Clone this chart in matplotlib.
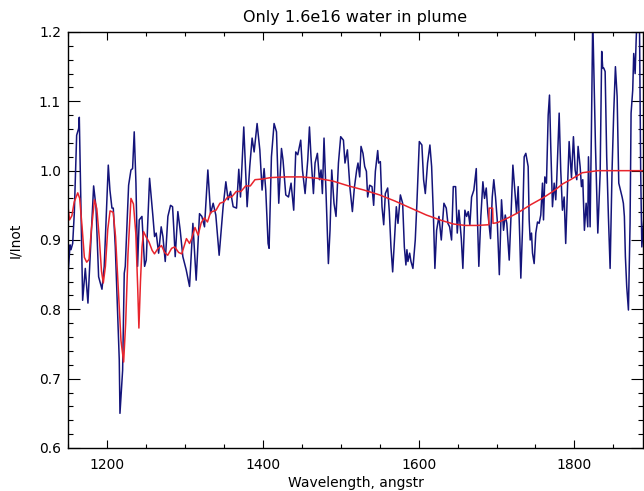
import matplotlib
matplotlib.use("Agg")
import matplotlib.pyplot as plt
from matplotlib.ticker import MultipleLocator

# observed transmission spectrum (I/Inot) vs wavelength in angstroms
obs_wave = [
    1149.6, 1152.6, 1153.8, 1156.0, 1158.1, 1161.1, 1163.7, 1164.5, 1168.8, 1172.2,
    1175.6, 1178.2, 1182.9, 1185.9, 1189.3, 1193.6, 1196.5, 1201.7, 1203.8, 1206.4,
    1208.1, 1210.7, 1215.8, 1216.7, 1220.1, 1222.2, 1223.5, 1227.8, 1230.8, 1232.9,
    1235.0, 1237.2, 1239.3, 1241.4, 1244.9, 1248.3, 1250.4, 1254.7, 1259.0, 1261.1,
    1263.2, 1266.3, 1269.6, 1271.8, 1274.8, 1278.2, 1281.6, 1284.2, 1285.9, 1287.6,
    1291.0, 1294.0, 1297.4, 1301.7, 1306.0, 1310.3, 1314.5, 1318.8, 1321.8, 1325.2,
    1329.5, 1333.0, 1336.3, 1339.7, 1344.0, 1347.0, 1349.1, 1352.6, 1355.5, 1358.6,
    1362.0, 1366.3, 1369.2, 1371.4, 1375.6, 1379.9, 1383.3, 1386.3, 1388.9, 1392.7,
    1396.2, 1399.1, 1401.7, 1403.8, 1406.8, 1408.1, 1411.1, 1414.5, 1417.6, 1420.5,
    1424.0, 1426.0, 1429.5, 1433.0, 1436.3, 1439.7, 1442.3, 1444.9, 1448.7, 1450.9,
    1454.3, 1457.7, 1459.9, 1461.9, 1465.0, 1467.1, 1470.1, 1472.7, 1474.8, 1476.5,
    1478.6, 1481.2, 1484.2, 1486.3, 1488.5, 1491.4, 1494.0, 1497.1, 1500.0, 1503.5,
    1505.5, 1508.6, 1511.9, 1515.0, 1517.5, 1520.5, 1522.2, 1524.4, 1526.1, 1528.6,
    1530.8, 1533.0, 1534.6, 1537.2, 1540.2, 1542.3, 1544.5, 1547.5, 1548.7, 1550.9,
    1553.0, 1555.2, 1557.3, 1560.3, 1562.4, 1564.5, 1566.7, 1568.8, 1571.4, 1573.5,
    1576.6, 1579.5, 1581.7, 1583.7, 1585.0, 1586.3, 1588.5, 1590.2, 1592.7, 1595.7,
    1597.8, 1600.9, 1604.2, 1606.4, 1608.6, 1611.5, 1614.5, 1616.7, 1618.9, 1620.9,
    1623.1, 1626.1, 1629.1, 1632.5, 1635.5, 1637.6, 1639.8, 1642.3, 1644.5, 1647.5,
    1649.6, 1651.7, 1654.8, 1656.8, 1659.4, 1661.6, 1663.7, 1665.8, 1668.0, 1670.9,
    1674.0, 1675.3, 1677.3, 1679.9, 1682.5, 1684.6, 1686.8, 1688.9, 1692.3, 1694.5,
    1696.5, 1698.7, 1700.9, 1703.6, 1706.4, 1709.0, 1711.2, 1713.2, 1716.3, 1718.4,
    1721.0, 1723.5, 1725.7, 1727.8, 1729.9, 1731.2, 1733.3, 1735.5, 1737.6, 1740.6,
    1741.9, 1743.2, 1744.9, 1746.2, 1748.3, 1750.4, 1752.6, 1754.7, 1756.8, 1759.0,
    1760.3, 1762.0, 1764.1, 1766.3, 1768.0, 1769.6, 1771.8, 1774.0, 1776.0, 1777.3,
    1780.4, 1782.4, 1784.6, 1786.8, 1788.8, 1791.0, 1793.2, 1796.2, 1798.7, 1800.9,
    1803.0, 1804.7, 1807.3, 1809.0, 1810.7, 1812.8, 1815.0, 1817.1, 1818.0, 1820.1,
    1821.8, 1823.5, 1827.0, 1830.0, 1833.0, 1835.0, 1836.3, 1837.6, 1839.4, 1841.4,
    1843.6, 1845.8, 1848.3, 1850.4, 1852.6, 1854.8, 1856.9, 1859.0, 1861.2, 1862.8,
    1864.1, 1865.4, 1867.1, 1869.3, 1871.4, 1872.7, 1874.8, 1876.1, 1877.9, 1879.2,
    1881.0, 1883.5, 1885.0, 1886.5, 1889.0,
]
obs_flux = [
    0.842, 0.893, 0.886, 0.895, 0.939, 1.051, 1.061, 1.077, 0.813, 0.859,
    0.809, 0.871, 0.978, 0.948, 0.847, 0.829, 0.862, 1.008, 0.972, 0.946,
    0.946, 0.890, 0.727, 0.650, 0.712, 0.852, 0.862, 0.979, 1.001, 1.003,
    1.056, 0.982, 0.862, 0.929, 0.934, 0.862, 0.871, 0.989, 0.934, 0.905,
    0.910, 0.881, 0.919, 0.905, 0.869, 0.934, 0.950, 0.948, 0.914, 0.876,
    0.941, 0.914, 0.876, 0.857, 0.833, 0.924, 0.842, 0.938, 0.934, 0.919,
    1.001, 0.938, 0.953, 0.936, 0.878, 0.919, 0.948, 0.984, 0.958, 0.970,
    0.948, 0.946, 1.002, 0.962, 1.063, 0.948, 1.006, 1.047, 1.027, 1.068,
    1.030, 0.972, 1.003, 0.972, 0.895, 0.888, 1.020, 1.068, 1.056, 0.953,
    1.032, 1.015, 0.965, 0.962, 0.982, 0.943, 1.027, 1.023, 1.044, 1.001,
    0.967, 1.015, 1.063, 1.020, 0.967, 1.011, 1.025, 0.987, 1.001, 0.967,
    1.047, 0.967, 0.866, 0.914, 1.001, 0.953, 0.934, 1.011, 1.049, 1.044,
    1.011, 1.030, 0.975, 0.941, 0.975, 1.001, 1.011, 0.991, 1.035, 1.025,
    1.006, 0.999, 0.962, 0.979, 0.977, 0.950, 0.999, 1.029, 1.011, 1.013,
    0.948, 0.922, 0.967, 0.975, 0.941, 0.890, 0.854, 0.895, 0.948, 0.924,
    0.965, 0.953, 0.890, 0.864, 0.886, 0.869, 0.881, 0.869, 0.859, 0.900,
    0.953, 1.042, 1.037, 0.987, 0.967, 1.011, 1.037, 1.006, 0.939, 0.859,
    0.914, 0.934, 0.900, 0.953, 0.946, 0.924, 0.919, 0.900, 0.977, 0.977,
    0.910, 0.943, 0.902, 0.859, 0.943, 0.934, 0.941, 0.922, 0.962, 0.972,
    1.003, 0.939, 0.862, 0.934, 0.984, 0.960, 0.975, 0.939, 0.902, 0.962,
    0.987, 0.962, 0.929, 0.850, 0.958, 0.914, 0.936, 0.924, 0.871, 0.929,
    1.008, 0.972, 0.939, 0.977, 0.900, 0.845, 0.914, 1.020, 1.025, 1.006,
    0.929, 0.900, 0.910, 0.881, 0.866, 0.910, 0.926, 0.924, 0.936, 0.982,
    0.929, 0.991, 0.982, 1.080, 1.109, 1.035, 0.948, 0.982, 0.958, 0.987,
    1.083, 1.001, 0.943, 0.962, 0.895, 0.972, 1.042, 0.990, 1.049, 1.001,
    0.987, 1.035, 1.006, 0.977, 0.987, 0.914, 0.953, 0.919, 1.020, 0.919,
    1.059, 1.220, 1.035, 0.910, 0.996, 1.172, 1.148, 1.148, 1.143, 1.020,
    0.934, 0.859, 1.001, 1.083, 1.150, 1.107, 0.982, 0.972, 0.962, 0.953,
    0.934, 0.876, 0.833, 0.799, 0.924, 1.083, 1.116, 1.169, 1.140, 1.188,
    1.240, 1.210, 1.000, 0.890, 0.930,
]

# model with 1.6e16 water column
model_wave = [
    1150, 1152, 1155, 1158, 1162.5, 1165, 1168, 1171, 1174, 1177,
    1180, 1184, 1187, 1190, 1193, 1195.3, 1198, 1201, 1204, 1208,
    1211, 1215, 1218, 1221.4, 1224, 1227, 1230.8, 1234, 1237, 1239.5,
    1241, 1243, 1245, 1247, 1250, 1254, 1258, 1261, 1265, 1270,
    1274, 1278, 1283, 1287, 1292, 1296, 1302, 1306, 1309, 1313,
    1317, 1321, 1325, 1329, 1333, 1340, 1345, 1350, 1355, 1360,
    1366, 1372, 1378, 1384, 1390, 1400, 1410, 1430, 1450, 1470,
    1490, 1510, 1530, 1550, 1570, 1590, 1610, 1630, 1645, 1660,
    1675, 1690, 1690.5, 1695, 1695.5, 1701, 1715, 1727, 1744, 1760,
    1775, 1785, 1795, 1810, 1830, 1889,
]
model_flux = [
    0.948, 0.929, 0.935, 0.955, 0.968, 0.960, 0.920, 0.875, 0.868, 0.872,
    0.915, 0.958, 0.945, 0.905, 0.855, 0.838, 0.862, 0.915, 0.942, 0.940,
    0.905, 0.820, 0.755, 0.724, 0.780, 0.880, 0.960, 0.952, 0.910, 0.830,
    0.773, 0.840, 0.890, 0.912, 0.905, 0.897, 0.885, 0.880, 0.887, 0.892,
    0.882, 0.878, 0.888, 0.890, 0.882, 0.880, 0.902, 0.895, 0.903, 0.918,
    0.907, 0.925, 0.932, 0.926, 0.940, 0.943, 0.953, 0.955, 0.962, 0.962,
    0.970, 0.970, 0.978, 0.978, 0.987, 0.988, 0.990, 0.991, 0.991, 0.989,
    0.985, 0.978, 0.972, 0.965, 0.956, 0.946, 0.936, 0.928, 0.923, 0.921,
    0.921, 0.922, 0.946, 0.946, 0.924, 0.925, 0.932, 0.939, 0.951, 0.961,
    0.972, 0.981, 0.987, 0.997, 1.000, 1.000,
]

plt.rcParams["font.family"] = ["DejaVu Sans"]
plt.rcParams["font.size"] = 10

fig = plt.figure(figsize=(6.44, 4.91), dpi=100)
ax = fig.add_axes([68 / 644, 43 / 491, 575 / 644, 416 / 491])

ax.plot(obs_wave, obs_flux, color="#14147a", lw=1.1)
ax.plot(model_wave, model_flux, color="#e8242c", lw=1.1)

ax.set_xlim(1150, 1888)
ax.set_ylim(0.6, 1.2)

ax.xaxis.set_major_locator(MultipleLocator(200))
ax.xaxis.set_minor_locator(MultipleLocator(50))
ax.yaxis.set_major_locator(MultipleLocator(0.1))
ax.yaxis.set_minor_locator(MultipleLocator(0.02))
ax.yaxis.set_major_formatter(lambda v, pos: f"{v:.1f}")

ax.tick_params(axis="both", which="both", direction="in",
               top=True, right=True, width=0.8)
ax.tick_params(axis="x", which="major", length=6, pad=7)
ax.tick_params(axis="x", which="minor", length=3)
ax.tick_params(axis="y", which="major", length=8.5, pad=5)
ax.tick_params(axis="y", which="minor", length=3.6)
for sp in ax.spines.values():
    sp.set_linewidth(1.0)

ax.set_title("Only 1.6e16 water in plume", fontsize=11.5, pad=7)
ax.set_xlabel("Wavelength, angstr", labelpad=3)
ax.set_ylabel("I/Inot", labelpad=12)

fig.savefig("out.png", dpi=100)
